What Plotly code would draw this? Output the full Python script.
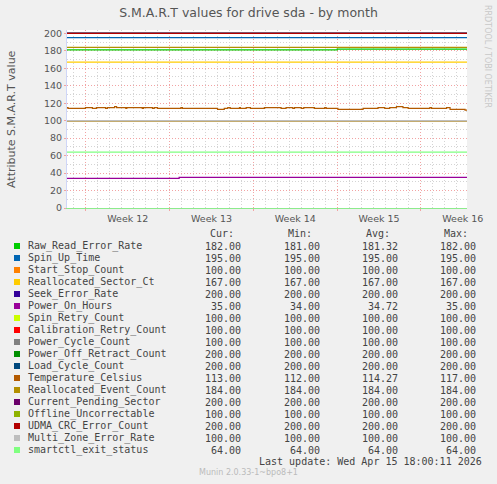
import plotly.graph_objects as go

# Munin S.M.A.R.T month graph for sda
names = ['Raw_Read_Error_Rate', 'Spin_Up_Time', 'Start_Stop_Count', 'Reallocated_Sector_Ct',
         'Seek_Error_Rate', 'Power_On_Hours', 'Spin_Retry_Count', 'Calibration_Retry_Count',
         'Power_Cycle_Count', 'Power_Off_Retract_Count', 'Load_Cycle_Count', 'Temperature_Celsius',
         'Reallocated_Event_Count', 'Current_Pending_Sector', 'Offline_Uncorrectable',
         'UDMA_CRC_Error_Count', 'Multi_Zone_Error_Rate', 'smartctl_exit_status']
colors = ['#00CC00', '#0066B3', '#FF8000', '#FFCC00', '#330099', '#990099', '#CCFF00', '#FF0000',
          '#808080', '#008F00', '#00487D', '#B35A00', '#B38F00', '#6B006B', '#8FB300', '#B30000',
          '#BEBEBE', '#80FF80']
cur_vals = [182, 195, 100, 167, 200, 35, 100, 100, 100, 200, 200, 113, 184, 200, 100, 200, 100, 64]
min_vals = [181, 195, 100, 167, 200, 34, 100, 100, 100, 200, 200, 112, 184, 200, 100, 200, 100, 64]
avg_vals = [181.32, 195, 100, 167, 200, 34.72, 100, 100, 100, 200, 200, 114.27, 184, 200, 100, 200, 100, 64]
max_vals = [182, 195, 100, 167, 200, 35, 100, 100, 100, 200, 200, 117, 184, 200, 100, 200, 100, 64]

t_start = '2026-03-14 10:00'
t_end = '2026-04-16 20:30'

# series that changed during the month
raw_read_times = [t_start, '2026-04-06 00:00', t_end]
raw_read_vals = [181, 182, 182]
power_on_times = [t_start, '2026-03-23 19:00', t_end]
power_on_vals = [34, 35, 35]
temp_times = [t_start, '2026-03-14 12:00', '2026-03-15 23:00', '2026-03-16 13:00', '2026-03-16 21:00',
              '2026-03-17 15:30', '2026-03-17 19:00', '2026-03-18 09:30', '2026-03-18 13:30',
              '2026-03-19 08:00', '2026-03-19 10:00', '2026-03-20 17:00', '2026-03-20 19:30',
              '2026-03-21 13:30', '2026-03-21 17:00', '2026-03-21 23:30', '2026-03-23 22:30',
              '2026-03-24 01:30', '2026-03-27 00:00', '2026-03-27 13:30', '2026-03-27 20:30',
              '2026-03-28 01:30', '2026-03-28 20:00', '2026-03-28 22:00', '2026-03-29 09:30',
              '2026-03-29 18:00', '2026-03-30 22:00', '2026-04-01 07:30', '2026-04-01 17:30',
              '2026-04-02 07:00', '2026-04-02 10:30', '2026-04-03 00:00', '2026-04-03 05:00',
              '2026-04-04 02:30', '2026-04-04 23:00', '2026-04-05 02:00', '2026-04-06 01:30',
              '2026-04-08 04:00', '2026-04-09 10:00', '2026-04-09 23:30', '2026-04-10 09:30',
              '2026-04-10 23:00', '2026-04-11 12:00', '2026-04-11 22:30', '2026-04-13 18:00',
              '2026-04-13 21:30', '2026-04-15 03:30', '2026-04-15 10:30', '2026-04-16 16:30', t_end]
temp_vals = [115, 114, 115, 114, 115, 114, 115, 116, 115, 114, 115, 114, 115, 114, 115, 114, 115,
             114, 113, 114, 115, 114, 115, 114, 115, 114, 115, 114, 115, 114, 115, 114, 115,
             114, 115, 114, 113, 114, 115, 114, 115, 116, 115, 114, 115, 114, 115, 113, 112, 112]

W, H = 497, 484
L, R, T, B = 67, 30, 30, 276


def px(x):
    return (x - L) / (W - L - R)


def py(y):
    return (H - B - y) / (H - B - T)


fig = go.Figure()
for i, name in enumerate(names):
    if name == 'Raw_Read_Error_Rate':
        xs, ys = raw_read_times, raw_read_vals
    elif name == 'Power_On_Hours':
        xs, ys = power_on_times, power_on_vals
    elif name == 'Temperature_Celsius':
        xs, ys = temp_times, temp_vals
    else:
        xs, ys = [t_start, t_end], [cur_vals[i], cur_vals[i]]
    fig.add_trace(go.Scatter(x=xs, y=ys, mode='lines', name=name, showlegend=False,
                             line=dict(color=colors[i], width=1.2, shape='hv')))

major = '#F2A3A3'
minor = '#D4D4D4'
tick_font = dict(family='DejaVu Sans', size=9.5, color='#555555')

fig.update_xaxes(type='date', range=[t_start, t_end], tick0='2026-03-16', dtick=7 * 86400000,
                 ticklabelmode='period', tickformat='Week %V', tickfont=tick_font,
                 showgrid=True, gridcolor=major, griddash='1px,2px', gridwidth=1,
                 ticks='outside', ticklen=2, tickcolor=major,
                 minor=dict(showgrid=True, dtick=86400000, tick0='2026-03-16',
                            gridcolor=minor, griddash='1px,2px'),
                 showline=True, linecolor='#8CEB8C', linewidth=1, zeroline=False)
fig.update_yaxes(range=[0, 203.8], tick0=0, dtick=20, tickfont=tick_font,
                 showgrid=True, gridcolor=major, griddash='1px,2px', gridwidth=1,
                 ticks='outside', ticklen=2, tickcolor=major,
                 minor=dict(showgrid=True, dtick=10, gridcolor=minor, griddash='1px,2px'),
                 showline=True, linecolor='#CFD6F8', linewidth=1, zeroline=False)

mono = dict(family='DejaVu Sans Mono', size=10, color='#444444')
ann = []
shapes = []


def text(x, y, s, anchor='left', font=mono, **kw):
    ann.append(dict(x=px(x), y=py(y), xref='paper', yref='paper', text=s, showarrow=False,
                    xanchor=anchor, yanchor='middle', font=font, **kw))


# axis title and side credits
text(11, 119, 'Attribute S.M.A.R.T value', anchor='center',
     font=dict(family='DejaVu Sans', size=11, color='#555555'), textangle=-90)
text(488, 56, 'RRDTOOL / TOBI OETIKER', anchor='center',
     font=dict(family='DejaVu Sans', size=8, color='#C8C8C8'), textangle=90)

# legend table header
for label, xr in zip(['Cur:', 'Min:', 'Avg:', 'Max:'], [236, 314, 392, 470]):
    text(xr, 234, label, anchor='right')

col_right = [243, 322, 400, 478]
for i, name in enumerate(names):
    yc = 246 + 12 * i
    shapes.append(dict(type='rect', xref='paper', yref='paper', x0=px(14), x1=px(20),
                       y0=py(yc + 3), y1=py(yc - 3), fillcolor=colors[i], line=dict(width=0)))
    text(26, yc, name)
    for vals, xr in zip([cur_vals, min_vals, avg_vals, max_vals], col_right):
        text(xr, yc, '%.2f' % vals[i], anchor='right')

text(484, 461, 'Last update: Wed Apr 15 18:00:11 2026', anchor='right')
text(248, 473, 'Munin 2.0.33-1~bpo8+1', anchor='center',
     font=dict(family='DejaVu Sans', size=8, color='#BBBBBB'))

fig.update_layout(
    width=W, height=H,
    margin=dict(l=L, r=R, t=T, b=B, pad=0),
    paper_bgcolor='#F0F0F0', plot_bgcolor='#FFFFFF',
    hovermode=False,
    title=dict(text='S.M.A.R.T values for drive sda - by month', x=0.5, xanchor='center',
               y=1 - 13 / H, yanchor='middle',
               font=dict(family='DejaVu Sans', size=12.5, color='#555555')),
    annotations=ann, shapes=shapes,
)

# page body margin would otherwise push the figure 8px down and right
fig.write_html('out.html', config={'displayModeBar': False},
               post_script="document.body.style.margin='0';document.body.style.overflow='hidden';")
